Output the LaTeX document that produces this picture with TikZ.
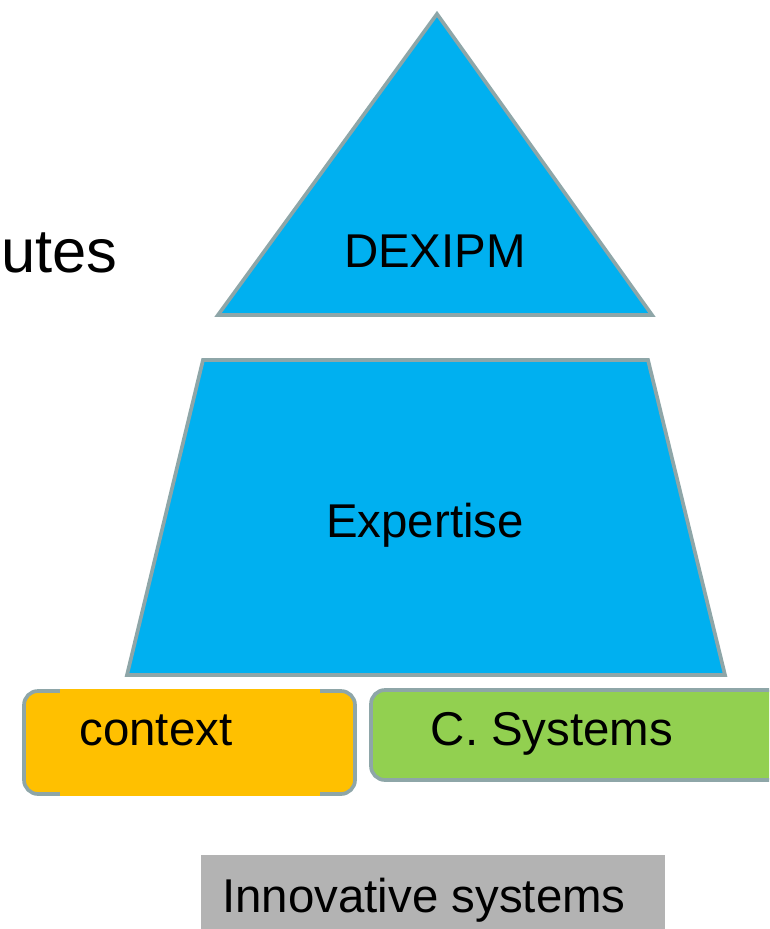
\documentclass[tikz,border=0pt]{standalone}
\usepackage{fontspec}
\setmainfont{Liberation Sans}
\definecolor{skyblue}{HTML}{00B0F0}
\definecolor{ctxorange}{HTML}{FFC000}
\definecolor{sysgreen}{HTML}{92D050}
\definecolor{edgegray}{HTML}{8EA6A8}
\definecolor{boxgray}{HTML}{B3B3B3}
\tikzset{
  layer/.style={fill=skyblue, draw=edgegray, line width=2.1pt, line join=miter},
  tag/.style={draw=edgegray, line width=2.1pt, rounded corners=8pt},
  lbl/.style={font=\fontsize{27}{32}\selectfont, inner sep=0pt, anchor=base}
}
\begin{document}
\begin{tikzpicture}[x=0.02cm, y=-0.02cm]
  \clip (0,0) rectangle (769,929);
  % pyramid
  \filldraw[layer] (437,14) -- (652,315) -- (218,315) -- cycle;
  \filldraw[layer] (203,360) -- (648,360) -- (725,675) -- (127,675) -- cycle;
  \node[lbl] (dexipm) at (435,267) {DEXIPM};
  \node[lbl] (expertise) at (425,537) {Expertise};
  % bottom boxes
  \filldraw[tag, fill=ctxorange] (24,691) rectangle (355,794);
  \fill[ctxorange] (60,689) rectangle (320,796);
  \node[lbl] (context) at (156,745) {context};
  \filldraw[tag, fill=sysgreen] (371,690) rectangle (800,780);
  \node[lbl] (csys) at (552,745) {C. Systems};
  \fill[boxgray] (201,855) rectangle (665,929);
  \node[lbl] (innov) at (424,912) {Innovative systems};
  \node[font=\fontsize{35}{42}\selectfont, inner sep=0pt, anchor=base west] (attr) at (1,272) {utes};
\end{tikzpicture}
\end{document}
